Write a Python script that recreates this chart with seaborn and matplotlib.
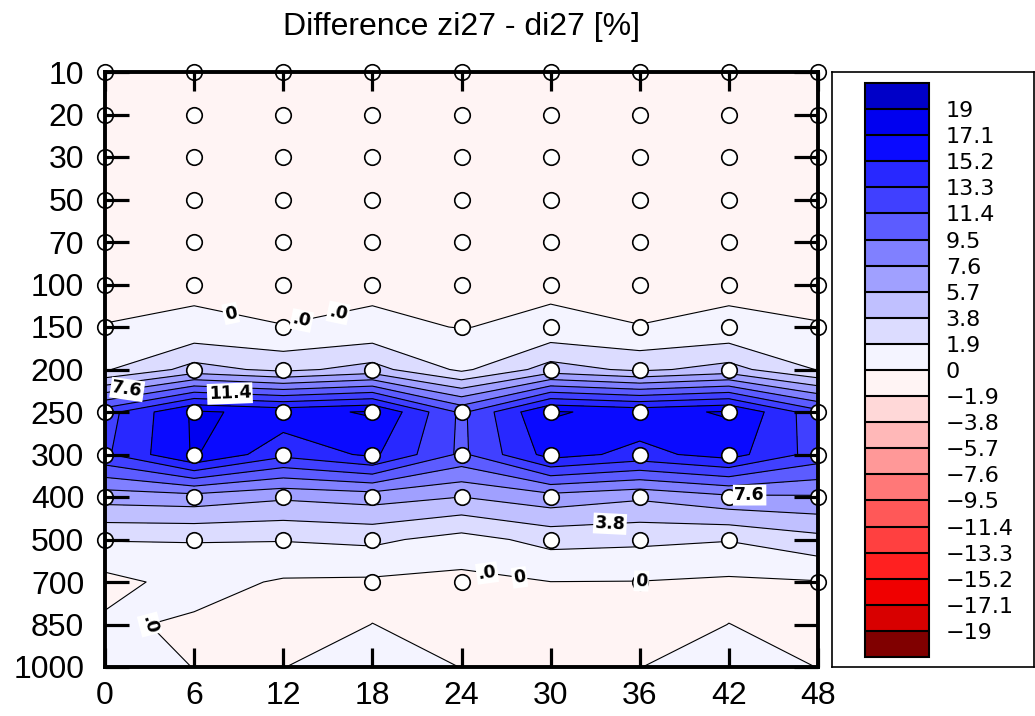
import numpy as np
import pandas as pd
import seaborn as sns
import matplotlib
matplotlib.use('Agg')
import matplotlib.pyplot as plt

# forecast hours and pressure levels
hours = [0, 6, 12, 18, 24, 30, 36, 42, 48]
pressure = [10, 20, 30, 50, 70, 100, 150, 200, 250, 300, 400, 500, 700, 850, 1000]

# difference zi27 - di27 [%], one row per pressure level
p10 = [-0.3, -0.4, -0.3, -0.4, -0.3, -0.4, -0.3, -0.4, -0.3]
p20 = [-0.4, -0.5, -0.4, -0.5, -0.4, -0.5, -0.4, -0.5, -0.4]
p30 = [-0.5, -0.5, -0.5, -0.5, -0.5, -0.5, -0.5, -0.5, -0.5]
p50 = [-0.4, -0.4, -0.4, -0.4, -0.4, -0.4, -0.4, -0.4, -0.4]
p70 = [-0.3, -0.3, -0.3, -0.3, -0.3, -0.3, -0.3, -0.3, -0.3]
p100 = [-0.3, -0.3, -0.3, -0.3, -0.3, -0.3, -0.3, -0.3, -0.3]
p150 = [0.03, 0.3, 0.02, 0.3, -0.05, 0.35, 0.02, 0.3, 0.05]
p200 = [1.7, 4.5, 3.3, 4.5, 1.5, 4.6, 3.4, 4.5, 1.8]
p250 = [12.5, 17.4, 16.5, 17.3, 11.0, 17.3, 16.5, 17.3, 12.0]
p300 = [13.0, 17.3, 13.8, 15.6, 11.0, 16.0, 14.6, 16.0, 12.5]
p400 = [6.5, 6.8, 6.0, 6.5, 5.7, 6.8, 6.0, 7.2, 7.4]
p500 = [2.0, 2.0, 2.0, 2.3, 1.2, 2.5, 2.3, 2.0, 3.2]
p700 = [-0.6, 0.7, -0.2, -0.3, -0.5, -0.02, -0.05, -0.3, -0.1]
p850 = [0.3, -0.3, -0.5, 0.01, -0.3, -0.5, -0.5, 0.01, -0.3]
p1000 = [0.3, -0.01, -0.01, 0.3, -0.01, -0.3, -0.01, 0.3, -0.01]

# hours with an observation (circle) at each level
obs_hours = [
    [0, 6, 12, 18, 24, 30, 36, 42, 48],
    [0, 6, 12, 18, 24, 30, 36, 42, 48],
    [0, 6, 12, 18, 24, 30, 36, 42, 48],
    [0, 6, 12, 18, 24, 30, 36, 42, 48],
    [0, 6, 12, 18, 24, 30, 36, 42, 48],
    [0, 6, 12, 18, 24, 30, 36, 42, 48],
    [0, 12, 24, 30, 36, 42, 48],
    [6, 12, 18, 30, 36, 42],
    [0, 6, 12, 18, 24, 30, 36, 42, 48],
    [0, 6, 12, 18, 24, 30, 36, 42, 48],
    [0, 6, 12, 18, 24, 30, 36, 42, 48],
    [0, 6, 12, 18, 30, 36, 42],
    [18, 24, 36, 48],
    [],
    [],
]

levels = [-19, -17.1, -15.2, -13.3, -11.4, -9.5, -7.6, -5.7, -3.8, -1.9, 0,
          1.9, 3.8, 5.7, 7.6, 9.5, 11.4, 13.3, 15.2, 17.1, 19]
labelled = [0, 3.8, 7.6, 11.4]
colors = ['#800000', '#d80000', '#f00000', '#ff2020', '#ff4040', '#ff5858',
          '#ff7878', '#ff9898', '#ffb8b8', '#ffd8d8', '#fff4f4', '#f4f4ff',
          '#dcdcff', '#c0c0ff', '#a0a0ff', '#8080ff', '#5c5cff', '#4040ff',
          '#2828ff', '#0a0aff', '#0000f0', '#0000c8']

Z = np.array([p10, p20, p30, p50, p70, p100, p150, p200, p250, p300,
              p400, p500, p700, p850, p1000])
X, Y = np.meshgrid(hours, np.arange(len(pressure)))

sns.set_theme(style='white')
plt.rcParams['font.family'] = ['Liberation Sans', 'DejaVu Sans']
plt.rcParams['text.color'] = 'black'
plt.rcParams['xtick.color'] = 'black'
plt.rcParams['ytick.color'] = 'black'

fig = plt.figure(figsize=(10.35, 7.16), dpi=100)
ax = fig.add_axes([105 / 1035, 49 / 716, 713 / 1035, 595 / 716])

cf = ax.contourf(X, Y, Z, levels=levels, colors=colors, extend='both')
ax.contour(X, Y, Z, levels=[v for v in levels if v not in labelled],
           colors='black', linewidths=0.8)
cl = {v: ax.contour(X, Y, Z, levels=[v], colors='black', linewidths=0.8) for v in labelled}

# contour labels (placed near the spots used in the original)
lab_style = dict(inline=True, fontsize=12.5, inline_spacing=3)
ax.clabel(cl[0], manual=[(8.4, 5.79), (27.9, 11.9), (36.1, 11.95)], fmt=lambda v: '0', **lab_style)
ax.clabel(cl[0], manual=[(13.3, 5.95), (15.8, 5.84), (25.7, 11.84), (1.8, 13.0)],
          fmt=lambda v: '.0', **lab_style)
ax.clabel(cl[7.6], manual=[(1.55, 7.6), (43.4, 9.67)], fmt='%g', **lab_style)
ax.clabel(cl[11.4], manual=[(8.4, 7.6)], fmt='%g', **lab_style)
ax.clabel(cl[3.8], manual=[(34.0, 10.66)], fmt='%g', **lab_style)
for t in ax.texts:
    t.set_fontweight('bold')
    t.set_family('DejaVu Sans')
    t.set_color('black')
    t.set_bbox(dict(facecolor='white', edgecolor='none', pad=1))

# observation circles
obs = pd.DataFrame([(h, i) for i, hs in enumerate(obs_hours) for h in hs], columns=['hour', 'row'])
sns.scatterplot(data=obs, x='hour', y='row', s=125, color='white', edgecolor='black',
                linewidth=1.2, zorder=2, clip_on=False, legend=False, ax=ax)

ax.set_xlim(0, 48)
ax.set_ylim(len(pressure) - 1, 0)
ax.set_xticks(hours)
ax.set_xticklabels([str(h) for h in hours])
ax.set_yticks(np.arange(len(pressure)))
ax.set_yticklabels([str(p) for p in pressure])
ax.set_xlabel('')
ax.set_ylabel('')
ax.set_axisbelow(False)
ax.tick_params(direction='in', width=2.3, top=True, bottom=True, left=True, right=True,
               labelsize=23, color='black', labelcolor='black')
ax.tick_params(axis='y', length=17, pad=15)
ax.tick_params(axis='x', length=14, pad=10)
for sp in ax.spines.values():
    sp.set_linewidth(2.8)
    sp.set_color('black')
    sp.set_zorder(3)
ax.set_title('Difference zi27 - di27 [%]', fontsize=23, pad=27, color='black')

# frame around the colour bar
frame = fig.add_axes([832 / 1035, 49 / 716, 202 / 1035, 595 / 716])
frame.set_xticks([])
frame.set_yticks([])
for sp in frame.spines.values():
    sp.set_linewidth(1.2)
    sp.set_color('black')
frame.set_zorder(0)

cax = fig.add_axes([865 / 1035, 59 / 716, 64 / 1035, 574 / 716])
cax.set_zorder(1)
cb = fig.colorbar(cf, cax=cax, ticks=levels, drawedges=True, extendrect=True, extendfrac=0.05)
cb.outline.set_linewidth(1.5)
cb.outline.set_edgecolor('black')
cb.dividers.set_linewidth(1.5)
cb.dividers.set_color('black')
cb.set_ticklabels([f'{v:g}'.replace('-', '\u2212') for v in levels])
cb.ax.tick_params(length=0, labelsize=16, pad=12, labelcolor='black')
for t in cb.ax.get_yticklabels():
    t.set_family('DejaVu Sans')

fig.savefig('out.png', dpi=100)
